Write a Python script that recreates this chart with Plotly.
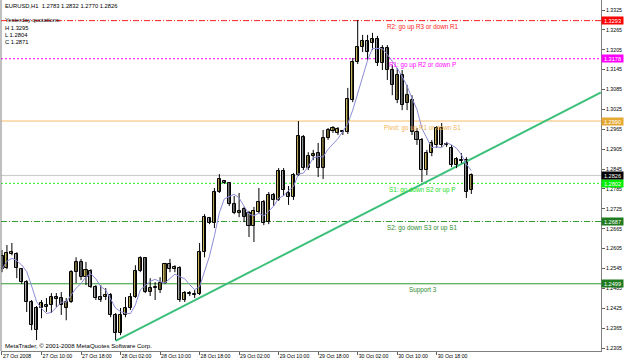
import plotly.graph_objects as go
import pandas as pd

# ---------------- data ----------------
opens = [1.2582, 1.2546, 1.2590, 1.2588, 1.2543, 1.2504, 1.2444, 1.2426, 1.2426, 1.2435,
         1.2435, 1.2459, 1.2456, 1.2426, 1.2444, 1.2534, 1.2565, 1.2519, 1.2537, 1.2489,
         1.2459, 1.2459, 1.2465, 1.2405, 1.2350, 1.2405, 1.2426, 1.2459, 1.2537, 1.2576,
         1.2474, 1.2486, 1.2480, 1.2501, 1.2558, 1.2543, 1.2546, 1.2450, 1.2471, 1.2465,
         1.2468, 1.2594, 1.2697, 1.2682, 1.2776, 1.2809, 1.2803, 1.2740, 1.2712, 1.2725,
         1.2712, 1.2673, 1.2715, 1.2746, 1.2685, 1.2767, 1.2752, 1.2839, 1.2773, 1.2761,
         1.2827, 1.2942, 1.2848, 1.2884, 1.2893, 1.2848, 1.2939, 1.2960, 1.2954, 1.2960,
         1.2957, 1.3053, 1.3168, 1.3213, 1.3231, 1.3225, 1.3237, 1.3165, 1.3210, 1.3144,
         1.3053, 1.3129, 1.3044, 1.3053, 1.2957, 1.2933, 1.2842, 1.2893, 1.2918, 1.2969,
         1.2918, 1.2909, 1.2857, 1.2872, 1.2872, 1.2783]
highs = [1.2601, 1.2616, 1.2622, 1.2594, 1.2546, 1.2510, 1.2450, 1.2432, 1.2450, 1.2456,
         1.2471, 1.2471, 1.2474, 1.2456, 1.2540, 1.2579, 1.2574, 1.2565, 1.2543, 1.2495,
         1.2495, 1.2486, 1.2471, 1.2411, 1.2426, 1.2459, 1.2471, 1.2555, 1.2582, 1.2579,
         1.2516, 1.2504, 1.2519, 1.2562, 1.2574, 1.2555, 1.2552, 1.2477, 1.2477, 1.2480,
         1.2622, 1.2709, 1.2700, 1.2788, 1.2830, 1.2812, 1.2806, 1.2764, 1.2773, 1.2731,
         1.2719, 1.2731, 1.2788, 1.2752, 1.2776, 1.2773, 1.2848, 1.2848, 1.2794, 1.2833,
         1.2990, 1.2948, 1.2896, 1.2903, 1.2924, 1.2963, 1.2969, 1.2975, 1.2972, 1.2963,
         1.3090, 1.3180, 1.3295, 1.3250, 1.3250, 1.3256, 1.3247, 1.3219, 1.3219, 1.3159,
         1.3150, 1.3144, 1.3099, 1.3068, 1.2969, 1.2939, 1.2903, 1.2933, 1.2975, 1.2984,
         1.2927, 1.2918, 1.2881, 1.2893, 1.2881, 1.2832]
lows = [1.2534, 1.2543, 1.2585, 1.2516, 1.2498, 1.2414, 1.2359, 1.2329, 1.2395, 1.2414,
        1.2411, 1.2429, 1.2405, 1.2389, 1.2441, 1.2501, 1.2510, 1.2495, 1.2486, 1.2450,
        1.2444, 1.2450, 1.2398, 1.2329, 1.2344, 1.2398, 1.2420, 1.2456, 1.2534, 1.2471,
        1.2462, 1.2450, 1.2471, 1.2498, 1.2534, 1.2534, 1.2444, 1.2444, 1.2462, 1.2456,
        1.2465, 1.2579, 1.2679, 1.2667, 1.2773, 1.2800, 1.2734, 1.2709, 1.2700, 1.2685,
        1.2640, 1.2625, 1.2712, 1.2676, 1.2679, 1.2734, 1.2749, 1.2764, 1.2737, 1.2752,
        1.2824, 1.2842, 1.2842, 1.2872, 1.2821, 1.2815, 1.2933, 1.2954, 1.2948, 1.2948,
        1.2951, 1.3047, 1.3162, 1.3198, 1.3174, 1.3204, 1.3156, 1.3144, 1.3114, 1.3068,
        1.3044, 1.3023, 1.3023, 1.2948, 1.2918, 1.2806, 1.2827, 1.2884, 1.2909, 1.2912,
        1.2912, 1.2851, 1.2848, 1.2863, 1.2758, 1.2770]
closes = [1.2543, 1.2591, 1.2594, 1.2546, 1.2504, 1.2444, 1.2374, 1.2359, 1.2441, 1.2429,
          1.2459, 1.2452, 1.2435, 1.2444, 1.2534, 1.2565, 1.2519, 1.2540, 1.2489, 1.2456,
          1.2450, 1.2465, 1.2405, 1.2350, 1.2405, 1.2426, 1.2459, 1.2537, 1.2576, 1.2474,
          1.2486, 1.2489, 1.2501, 1.2558, 1.2543, 1.2549, 1.2450, 1.2471, 1.2468, 1.2468,
          1.2594, 1.2700, 1.2682, 1.2776, 1.2815, 1.2803, 1.2740, 1.2712, 1.2719, 1.2700,
          1.2673, 1.2719, 1.2746, 1.2682, 1.2767, 1.2752, 1.2839, 1.2782, 1.2761, 1.2827,
          1.2945, 1.2848, 1.2884, 1.2890, 1.2848, 1.2939, 1.2963, 1.2969, 1.2966, 1.2957,
          1.3056, 1.3168, 1.3213, 1.3231, 1.3198, 1.3237, 1.3165, 1.3210, 1.3144, 1.3099,
          1.3129, 1.3038, 1.3068, 1.2957, 1.2933, 1.2842, 1.2893, 1.2924, 1.2969, 1.2918,
          1.2921, 1.2857, 1.2875, 1.2869, 1.2776, 1.2826]
bars = list(range(len(closes)))

date_tick_bars = [0, 8, 16, 24, 32, 40, 48, 56, 64, 72, 80, 88]
date_tick_text = ["27 Oct 2008", "27 Oct 10:00", "27 Oct 18:00", "28 Oct 02:00",
                  "28 Oct 10:00", "28 Oct 18:00", "29 Oct 02:00", "29 Oct 10:00",
                  "29 Oct 18:00", "30 Oct 02:00", "30 Oct 10:00", "30 Oct 18:00"]
price_ticks = [1.2305, 1.2365, 1.2425, 1.2485, 1.2545, 1.2605, 1.2665, 1.2725, 1.2785,
               1.2845, 1.2905, 1.2965, 1.3025, 1.3085, 1.3145, 1.3205, 1.3265, 1.3325]

level_prices = [1.3293, 1.3178, 1.2990, 1.2802, 1.2687, 1.2499]
level_texts = ["R2: go up R3 or down R1", "R1: go up R2 or down P",
               "Pivot: go up R1 or down S1", "S1: go down S2 or up P",
               "S2: go down S3 or up S1", "Support 3"]

trend_bars = [23, 95]
trend_prices = [1.2327, 1.2876]

info_lines = ["EURUSD,H1\u00a0\u00a01.2783 1.2832 1.2770 1.2826", "Yesterday quotations:",
              "H 1.3295", "L 1.2804", "C 1.2871"]
ma_period = 5

# ---------------- styles ----------------
level_line_colors = ["#FF2020", "#FF00FF", "#F5BE6A", "#22EE22", "#2E9A2E", "#2E9A2E"]
level_text_colors = ["#FF2020", "#FF00FF", "#F0B450", "#22DD22", "#2E8B2E", "#2E8B2E"]
level_box_colors = ["#FF0000", "#FF00FF", "#E5A830", "#00EE00", "#1E7A1E", "#1E7A1E"]
level_dashes = ["6px,2px,1px,2px", "2px,2px", "solid", "2px,2px", "6px,2px,1px,2px", "solid"]
FONT = "Liberation Sans, Arial, sans-serif"
BULL = "#C9B55C"
BEAR = "#A9A9A9"
X_MIN, X_MAX = -0.2, 121.25
Y_MIN, Y_MAX = 1.22962, 1.33552

fig = go.Figure()

# reference level lines
shapes = []
for p, col, dash in zip(level_prices, level_line_colors, level_dashes):
    shapes.append(dict(type="line", xref="paper", x0=0, x1=1, yref="y", y0=p, y1=p,
                       line=dict(color=col, width=1, dash=dash), layer="below"))
# current price line
shapes.append(dict(type="line", xref="paper", x0=0, x1=1, yref="y", y0=closes[-1], y1=closes[-1],
                   line=dict(color="#C8C8C8", width=1), layer="below"))
# left frame
shapes.append(dict(type="line", xref="paper", x0=0, x1=0, yref="paper", y0=0, y1=1,
                   line=dict(color="#808080", width=1)))

# trend line extended to the right edge
slope = (trend_prices[1] - trend_prices[0]) / (trend_bars[1] - trend_bars[0])
tx = [trend_bars[0], X_MAX]
ty = [trend_prices[0], trend_prices[0] + slope * (X_MAX - trend_bars[0])]
fig.add_trace(go.Scatter(x=tx, y=ty, mode="lines", line=dict(color="#3CC07A", width=2),
                         hoverinfo="skip", showlegend=False))

# wicks
wx, wy = [], []
for b, h, l in zip(bars, highs, lows):
    wx += [b, b, None]
    wy += [l, h, None]
fig.add_trace(go.Scatter(x=wx, y=wy, mode="lines", line=dict(color="#000000", width=1),
                         hoverinfo="skip", showlegend=False))

# bodies
body_base = [min(o, c) for o, c in zip(opens, closes)]
body_len = [abs(c - o) for o, c in zip(opens, closes)]
body_col = [BULL if c >= o else BEAR for o, c in zip(opens, closes)]
fig.add_trace(go.Bar(x=bars, y=body_len, base=body_base, width=0.62,
                     marker=dict(color=body_col, line=dict(color="#000000", width=1)),
                     hoverinfo="skip", showlegend=False))

# moving average
ma = pd.Series(closes).rolling(ma_period, min_periods=1).mean()
fig.add_trace(go.Scatter(x=bars, y=ma, mode="lines", line=dict(color="#8C8CD8", width=1),
                         hoverinfo="skip", showlegend=False))

annotations = []
# level descriptions
for p, t, col in zip(level_prices, level_texts, level_text_colors):
    annotations.append(dict(xref="paper", x=0.703, yref="y", y=p, text=t, showarrow=False,
                            xanchor="center", yanchor="top", yshift=-0.5,
                            font=dict(family=FONT, size=6.3, color=col)))
# price boxes on the axis
box_prices = level_prices + [closes[-1]]
box_colors = level_box_colors + ["#000000"]
for p, bg in zip(box_prices, box_colors):
    annotations.append(dict(xref="paper", x=1, yref="y", y=p, text=f"{p:.4f}", showarrow=False,
                            xanchor="left", yanchor="middle", bgcolor=bg, width=21, height=7,
                            borderpad=0, align="center",
                            font=dict(family=FONT, size=5.6, color="#FFFFFF")))
# info text top-left
info_y = [5.5, 20, 27.5, 34.5, 42]
for t, yy in zip(info_lines, info_y):
    annotations.append(dict(xref="paper", x=0, xshift=2, yref="paper", y=1, yshift=-yy,
                            text=t, showarrow=False, xanchor="left", yanchor="middle",
                            font=dict(family=FONT, size=5.8, color="#000000")))
annotations.append(dict(xref="paper", x=0, xshift=2, yref="paper", y=0, yshift=6,
                        text="MetaTrader, © 2001-2008 MetaQuotes Software Corp.", showarrow=False,
                        xanchor="left", yanchor="middle",
                        font=dict(family=FONT, size=6.1, color="#000000")))

fig.update_layout(
    width=625, height=361, autosize=False,
    margin=dict(l=1, r=24, t=0, b=10, pad=0),
    paper_bgcolor="#FFFFFF", plot_bgcolor="#FFFFFF",
    showlegend=False, bargap=0,
    shapes=shapes, annotations=annotations,
    xaxis=dict(range=[X_MIN, X_MAX], tickmode="array", tickvals=date_tick_bars,
               ticktext=date_tick_text, ticks="outside", ticklen=3, tickcolor="#606060",
               ticklabelposition="outside right", showgrid=False, zeroline=False,
               showline=True, linecolor="#808080", linewidth=1, automargin=False,
               tickfont=dict(family=FONT, size=5.2, color="#000000"), fixedrange=True),
    yaxis=dict(range=[Y_MIN, Y_MAX], side="right", tickmode="array", tickvals=price_ticks,
               ticktext=[f"{v:.4f}" for v in price_ticks], ticks="outside", ticklen=3,
               tickcolor="#606060", showgrid=False, zeroline=False, showline=True,
               linecolor="#808080", linewidth=1, automargin=False,
               tickfont=dict(family=FONT, size=5.2, color="#000000"), fixedrange=True),
)

fig.write_html("out.html")
